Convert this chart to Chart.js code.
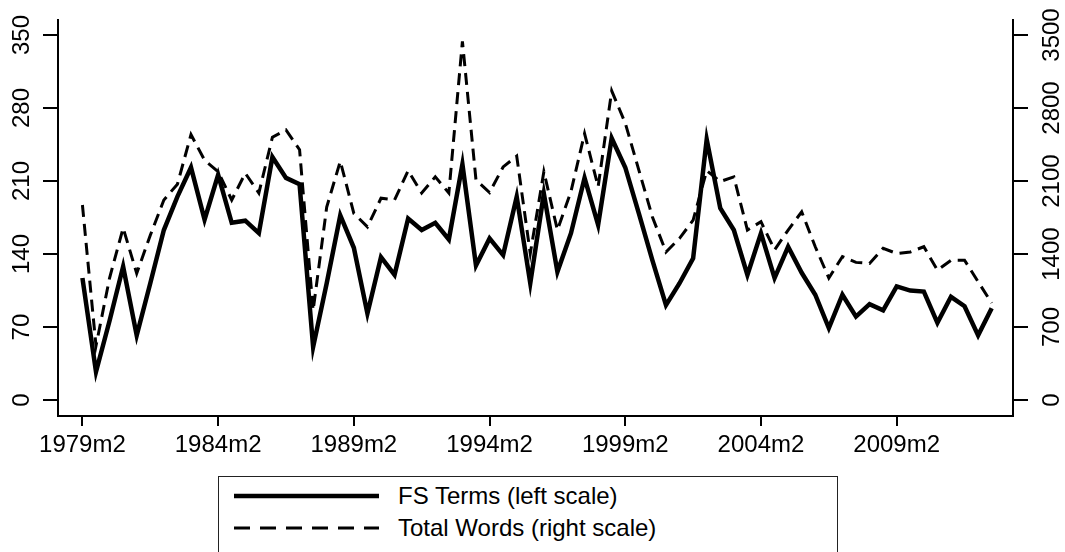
<!DOCTYPE html>
<html>
<head>
<meta charset="utf-8">
<script src="https://cdn.jsdelivr.net/npm/chart.js@4.4.1/dist/chart.umd.min.js"></script>
<style>
  html, body { margin: 0; padding: 0; background: #fff; }
  #lienzo { position: relative; width: 1065px; height: 552px; overflow: hidden; font-family: "Liberation Sans", Arial, sans-serif; }
  #grafico { position: absolute; left: 0; top: 0; }
  #leyenda { position: absolute; left: 218px; top: 476px; width: 620px; height: 100px; border: 1.5px solid #222; box-sizing: border-box; }
  .fila { position: absolute; left: 15px; height: 30px; display: flex; align-items: center; font-size: 24px; color: #000; white-space: nowrap; }
  .fila svg { margin-right: 19px; }
</style>
</head>
<body>
<div id="lienzo">
  <canvas id="grafico" width="1065" height="470"></canvas>
  <div id="leyenda"></div>
</div>
<script>
// periodos semestrales
const periods = [
  '1979m2','1979m8','1980m2','1980m8','1981m2','1981m8','1982m2','1982m8','1983m2','1983m8',
  '1984m2','1984m8','1985m2','1985m8','1986m2','1986m8','1987m2','1987m8','1988m2','1988m8',
  '1989m2','1989m8','1990m2','1990m8','1991m2','1991m8','1992m2','1992m8','1993m2','1993m8',
  '1994m2','1994m8','1995m2','1995m8','1996m2','1996m8','1997m2','1997m8','1998m2','1998m8',
  '1999m2','1999m8','2000m2','2000m8','2001m2','2001m8','2002m2','2002m8','2003m2','2003m8',
  '2004m2','2004m8','2005m2','2005m8','2006m2','2006m8','2007m2','2007m8','2008m2','2008m8',
  '2009m2','2009m8','2010m2','2010m8','2011m2','2011m8','2012m2','2012m8'
];

const fsTerms = [
  117, 27, 76, 128, 62, 112, 163, 195, 223, 173,
  216, 170, 172, 160, 233, 213, 207, 51, 112, 177,
  146, 83, 137, 120, 174, 163, 170, 154, 226, 129,
  155, 139, 195, 112, 198, 123, 160, 213, 168, 251,
  223, 179, 134, 91, 112, 136, 250, 184, 163, 120,
  160, 117, 147, 122, 101, 69, 101, 80, 92, 86,
  109, 105, 104, 74, 99, 90, 62, 88
];

const totalWords = [
  1870, 520, 1170, 1650, 1215, 1580, 1918, 2070, 2545, 2300,
  2190, 1918, 2175, 1985, 2520, 2590, 2400, 860, 1850, 2290,
  1790, 1660, 1935, 1918, 2200, 1985, 2140, 1985, 3440, 2110,
  1990, 2235, 2340, 1405, 2190, 1630, 2000, 2555, 2045, 2965,
  2655, 2205, 1755, 1420, 1550, 1725, 2200, 2095, 2140, 1630,
  1710, 1440, 1630, 1805, 1470, 1170, 1375, 1320, 1310, 1455,
  1405, 1420, 1470, 1245, 1340, 1340, 1135, 930
];

const xTickLabels = ['1979m2', '1984m2', '1989m2', '1994m2', '1999m2', '2004m2', '2009m2'];
const yLeftTicks = [0, 70, 140, 210, 280, 350];
const yRightTicks = [0, 700, 1400, 2100, 2800, 3500];

Chart.defaults.font.family = '"Liberation Sans", Arial, sans-serif';
Chart.defaults.font.size = 24;
Chart.defaults.color = '#000';

const ejeComun = {
  grid: { drawOnChartArea: false, color: '#000', lineWidth: 2 },
  border: { color: '#000', width: 2 }
};

const series = [
  {
    label: 'FS Terms (left scale)',
    data: periods.map((p, i) => ({ x: i, y: fsTerms[i] })),
    yAxisID: 'y',
    borderColor: '#000',
    borderWidth: 4.5,
    borderDash: [],
    pointRadius: 0,
    tension: 0,
    order: 1
  },
  {
    label: 'Total Words (right scale)',
    data: periods.map((p, i) => ({ x: i, y: totalWords[i] })),
    yAxisID: 'y2',
    borderColor: '#000',
    borderWidth: 3,
    borderDash: [12, 7],
    pointRadius: 0,
    tension: 0,
    order: 0
  }
];

const ctx = document.getElementById('grafico').getContext('2d');

new Chart(ctx, {
  type: 'line',
  data: { datasets: series },
  options: {
    responsive: false,
    animation: false,
    layout: { padding: { top: 20, left: 0, right: 0, bottom: 0 } },
    plugins: { legend: { display: false }, tooltip: { enabled: false } },
    scales: {
      x: {
        type: 'linear',
        min: -1.8,
        max: 68.57,
        afterBuildTicks: s => { s.ticks = xTickLabels.map(l => ({ value: periods.indexOf(l) })); },
        afterFit: s => { s.height = 54; },
        ticks: { callback: v => periods[v], padding: 5, maxRotation: 0, autoSkip: false },
        grid: { ...ejeComun.grid, tickLength: 10 },
        border: ejeComun.border
      },
      y: {
        position: 'left',
        min: -15.3,
        max: 364.4,
        afterBuildTicks: s => { s.ticks = yLeftTicks.map(v => ({ value: v })); },
        afterFit: s => { s.width = 58; },
        ticks: { callback: v => String(v), minRotation: 90, maxRotation: 90, crossAlign: 'center', padding: 1 },
        grid: { ...ejeComun.grid, tickLength: 15 },
        border: ejeComun.border
      },
      y2: {
        position: 'right',
        min: -153,
        max: 3644,
        afterBuildTicks: s => { s.ticks = yRightTicks.map(v => ({ value: v })); },
        afterFit: s => { s.width = 52; },
        ticks: { callback: v => String(v), minRotation: 90, maxRotation: 90, crossAlign: 'center', padding: -2 },
        grid: { ...ejeComun.grid, tickLength: 15 },
        border: ejeComun.border
      }
    }
  }
});

// leyenda en recuadro debajo del grafico
const leyenda = document.getElementById('leyenda');
series.forEach((d, i) => {
  const fila = document.createElement('div');
  fila.className = 'fila';
  fila.style.top = (4 + i * 32) + 'px';
  const dash = d.borderDash.length ? 'stroke-dasharray="16 10"' : '';
  fila.innerHTML = `<svg width="145" height="10"><line x1="0" y1="5" x2="145" y2="5" stroke="#000" stroke-width="${i === 0 ? 4.5 : 3}" ${dash}/></svg><span>${d.label}</span>`;
  leyenda.appendChild(fila);
});
</script>
</body>
</html>
